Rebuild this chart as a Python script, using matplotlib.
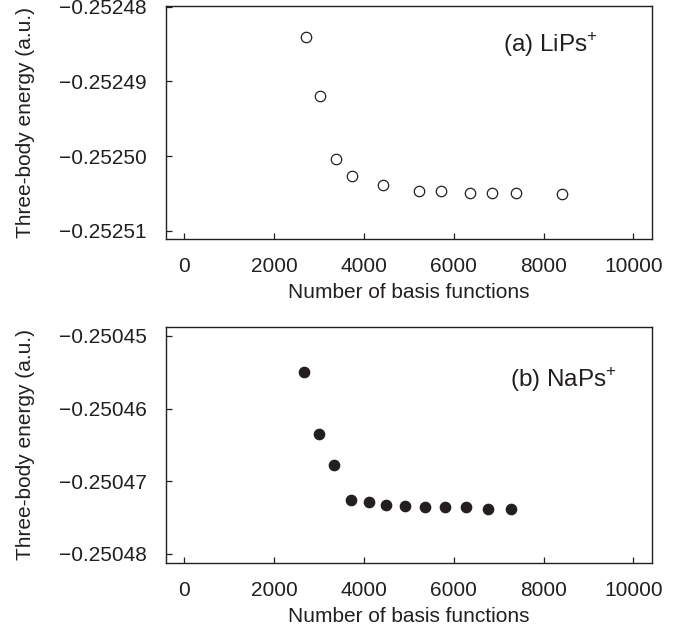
import numpy as np
import matplotlib
matplotlib.use("Agg")
import matplotlib.pyplot as plt

# data
n_lips = [2717, 3029, 3385, 3742, 4432, 5234, 5724, 6370, 6860, 7394, 8419]
e_lips = [-0.2524841, -0.2524920, -0.2525004, -0.2525026, -0.2525039, -0.2525047,
          -0.2525047, -0.2525049, -0.2525050, -0.2525050, -0.2525051]

n_naps = [2673, 3000, 3334, 3719, 4105, 4492, 4906, 5352, 5797, 6265, 6764, 7283]
e_naps = [-0.2504549, -0.2504635, -0.2504677, -0.2504726, -0.2504729, -0.2504733,
          -0.2504734, -0.2504735, -0.2504736, -0.2504736, -0.2504738, -0.2504738]

xticks = [0, 2000, 4000, 6000, 8000, 10000]
yticks_a = [-0.25248, -0.25249, -0.25250, -0.25251]
yticks_b = [-0.25045, -0.25046, -0.25047, -0.25048]

plt.rcParams['font.family'] = ['Liberation Sans', 'DejaVu Sans']
plt.rcParams['mathtext.fontset'] = 'custom'
plt.rcParams['mathtext.rm'] = 'Liberation Sans'
plt.rcParams['font.size'] = 15

ink = '#231f20'
fig = plt.figure(figsize=(6.92, 6.34), dpi=100)


def style(ax, yticks):
    ax.set_xlim(-400, 10410)
    ax.set_xticks(xticks)
    ax.set_yticks(yticks)
    ax.set_yticklabels([('%.5f' % v).replace('-', '\u2212') for v in yticks])
    ax.tick_params(direction='in', length=4, width=0.9, color=ink,
                   labelcolor=ink, top=False, right=False)
    ax.tick_params(axis='x', pad=13)
    ax.tick_params(axis='y', pad=14)
    for s in ax.spines.values():
        s.set_color(ink)
        s.set_linewidth(1.0)
    ax.set_xlabel('Number of basis functions', color=ink)
    ax.set_ylabel('Three-body energy (a.u.)', color=ink)
    ax.xaxis.set_label_coords(0.5, -0.19)
    ax.yaxis.set_label_coords(-0.269, 0.5)


# (a) LiPs+
ax1 = fig.add_axes([0.240, 0.623, 0.702, 0.3675])
ax1.plot(n_lips, e_lips, 'o', ms=7.5, mfc='white', mec=ink, mew=0.9)
ax1.set_ylim(-0.25251109, -0.25247992)
style(ax1, yticks_a)
ax1.text(0.889, 0.834, '(a) LiPs$^{+}$', transform=ax1.transAxes,
         ha='right', va='center', color=ink, fontsize=17.5)

# (b) NaPs+
ax2 = fig.add_axes([0.240, 0.1125, 0.702, 0.3713])
ax2.plot(n_naps, e_naps, 'o', ms=7.5, mfc=ink, mec=ink, mew=0.9)
ax2.set_ylim(-0.2504812, -0.2504488)
style(ax2, yticks_b)
ax2.text(0.928, 0.776, '(b) NaPs$^{+}$', transform=ax2.transAxes,
         ha='right', va='center', color=ink, fontsize=17.5)

fig.savefig('out.png', dpi=100)
